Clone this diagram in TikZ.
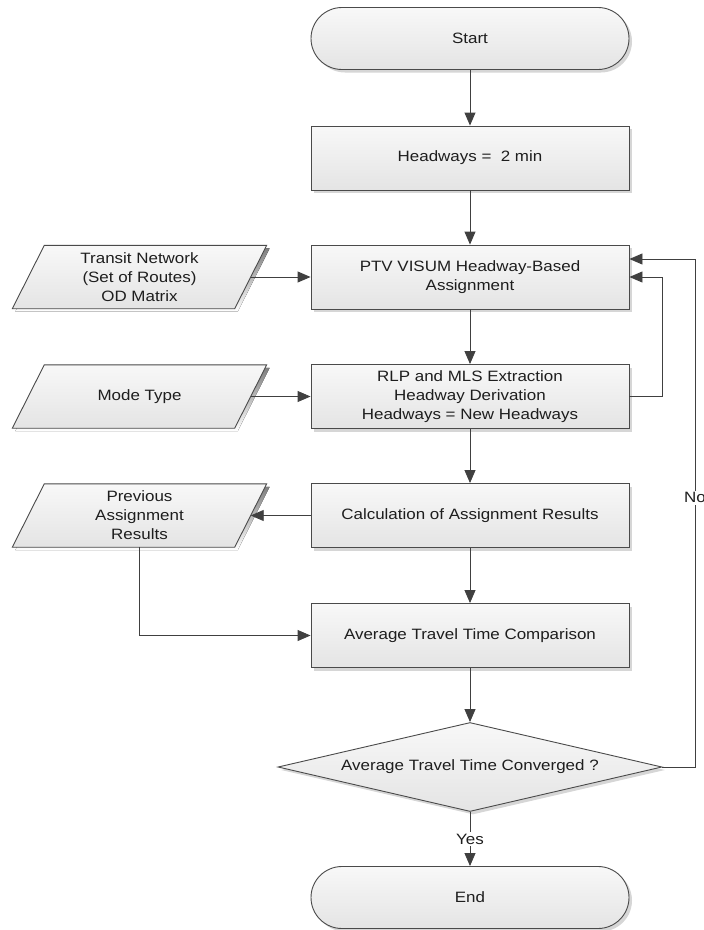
\documentclass[tikz,border=0pt]{standalone}
\usepackage{fontspec}
\setmainfont[FakeStretch=1.13]{Liberation Sans}
\usetikzlibrary{arrows.meta,shadows,shapes.geometric,calc}
\pgfdeclarelayer{background}
\pgfsetlayers{background,main}

\definecolor{edge}{HTML}{4A4A4A}
\definecolor{wire}{HTML}{404040}
\definecolor{ink}{HTML}{1E1E1E}
\definecolor{boxtop}{HTML}{F8F8F8}
\definecolor{boxbot}{HTML}{E4E4E4}
\definecolor{shade}{HTML}{D6D6D6}

% frame and shadow of a data (parallelogram) node, drawn behind its text
\newcommand\dataframe[1]{%
  \begin{pgfonlayer}{background}
    \fill[shade] ([xshift=-13pt,yshift=-3pt]#1.south west) -- ([xshift=-13pt,yshift=-3pt]#1.south east)
      -- ([xshift=19pt,yshift=-3pt]#1.north east) -- ([xshift=19pt,yshift=-3pt]#1.north west) -- cycle;
    \draw[draw=edge, line width=0.9pt, top color=boxtop, bottom color=boxbot]
      ([xshift=-16pt]#1.south west) -- ([xshift=-16pt]#1.south east)
      -- ([xshift=16pt]#1.north east) -- ([xshift=16pt]#1.north west) -- cycle;
  \end{pgfonlayer}}

\begin{document}
\begin{tikzpicture}[x=1pt, y=-1pt,
  font=\fontsize{15}{19}\selectfont, text=ink,
  base/.style={draw=edge, line width=0.9pt, top color=boxtop, bottom color=boxbot,
    align=center, inner sep=0pt,
    drop shadow={shadow xshift=3pt, shadow yshift=-3pt, fill=shade, opacity=1}},
  process/.style={base, rectangle, minimum width=318pt, minimum height=64pt},
  terminal/.style={base, rectangle, rounded corners=31pt, minimum width=318pt, minimum height=62pt},
  decision/.style={base, diamond, aspect=4.3, minimum width=384pt, minimum height=89pt},
  datatext/.style={rectangle, align=center, inner sep=0pt, minimum width=222pt, minimum height=63pt},
  arr/.style={draw=wire, line width=0.9pt, -{Triangle[length=13pt, width=11pt]}},
  lbl/.style={fill=white, inner sep=1.5pt}]

\useasboundingbox (0,0) rectangle (704,930);

% main column
\node[terminal] (start) at (470,38.5) {Start};
\node[process]  (hw)    at (470,158)  {Headways = \ 2 min};
\node[process]  (ptv)   at (470,277)  {PTV VISUM Headway-Based\\Assignment};
\node[process]  (rlp)   at (470,396.5) {RLP and MLS Extraction\\Headway Derivation\\Headways = New Headways};
\node[process]  (calc)  at (470,515.5) {Calculation of Assignment Results};
\node[process]  (avg)   at (470,635.5) {Average Travel Time Comparison};
\node[decision] (dec)   at (470,767)  {Average Travel Time Converged ?};
\node[terminal] (end)   at (470,897.5) {End};

% inputs and outputs
\node[datatext] (net)  at (139.5,277)   {Transit Network\\(Set of Routes)\\OD Matrix};
\node[datatext] (mode) at (139.5,396.5) {Mode Type};
\node[datatext] (prev) at (139.5,515.5) {Previous\\Assignment\\Results};
\dataframe{net}
\dataframe{mode}
\dataframe{prev}

\coordinate (loop) at (695,0);

% flow
\draw[arr] (start) -- (hw);
\draw[arr] (hw) -- (ptv);
\draw[arr] (ptv) -- (rlp);
\draw[arr] (rlp) -- (calc);
\draw[arr] (calc) -- (avg);
\draw[arr] (avg) -- (dec);
\draw[arr] (dec) -- node[lbl, pos=0.5] {Yes} (end);

\draw[arr] (net) -- (ptv);
\draw[arr] (mode) -- (rlp);
\draw[arr] (calc) -- (prev);
\draw[arr] (prev) |- (avg);

% feedback loops
\draw[arr] (rlp.east) -- ++(33,0) |- (ptv.east);
\draw[arr] (dec.east) -- (dec.east -| loop)
  -- node[lbl, pos=0.53] {No} ([yshift=18pt]ptv.east -| loop)
  -- ([yshift=18pt]ptv.east);
\end{tikzpicture}
\end{document}
